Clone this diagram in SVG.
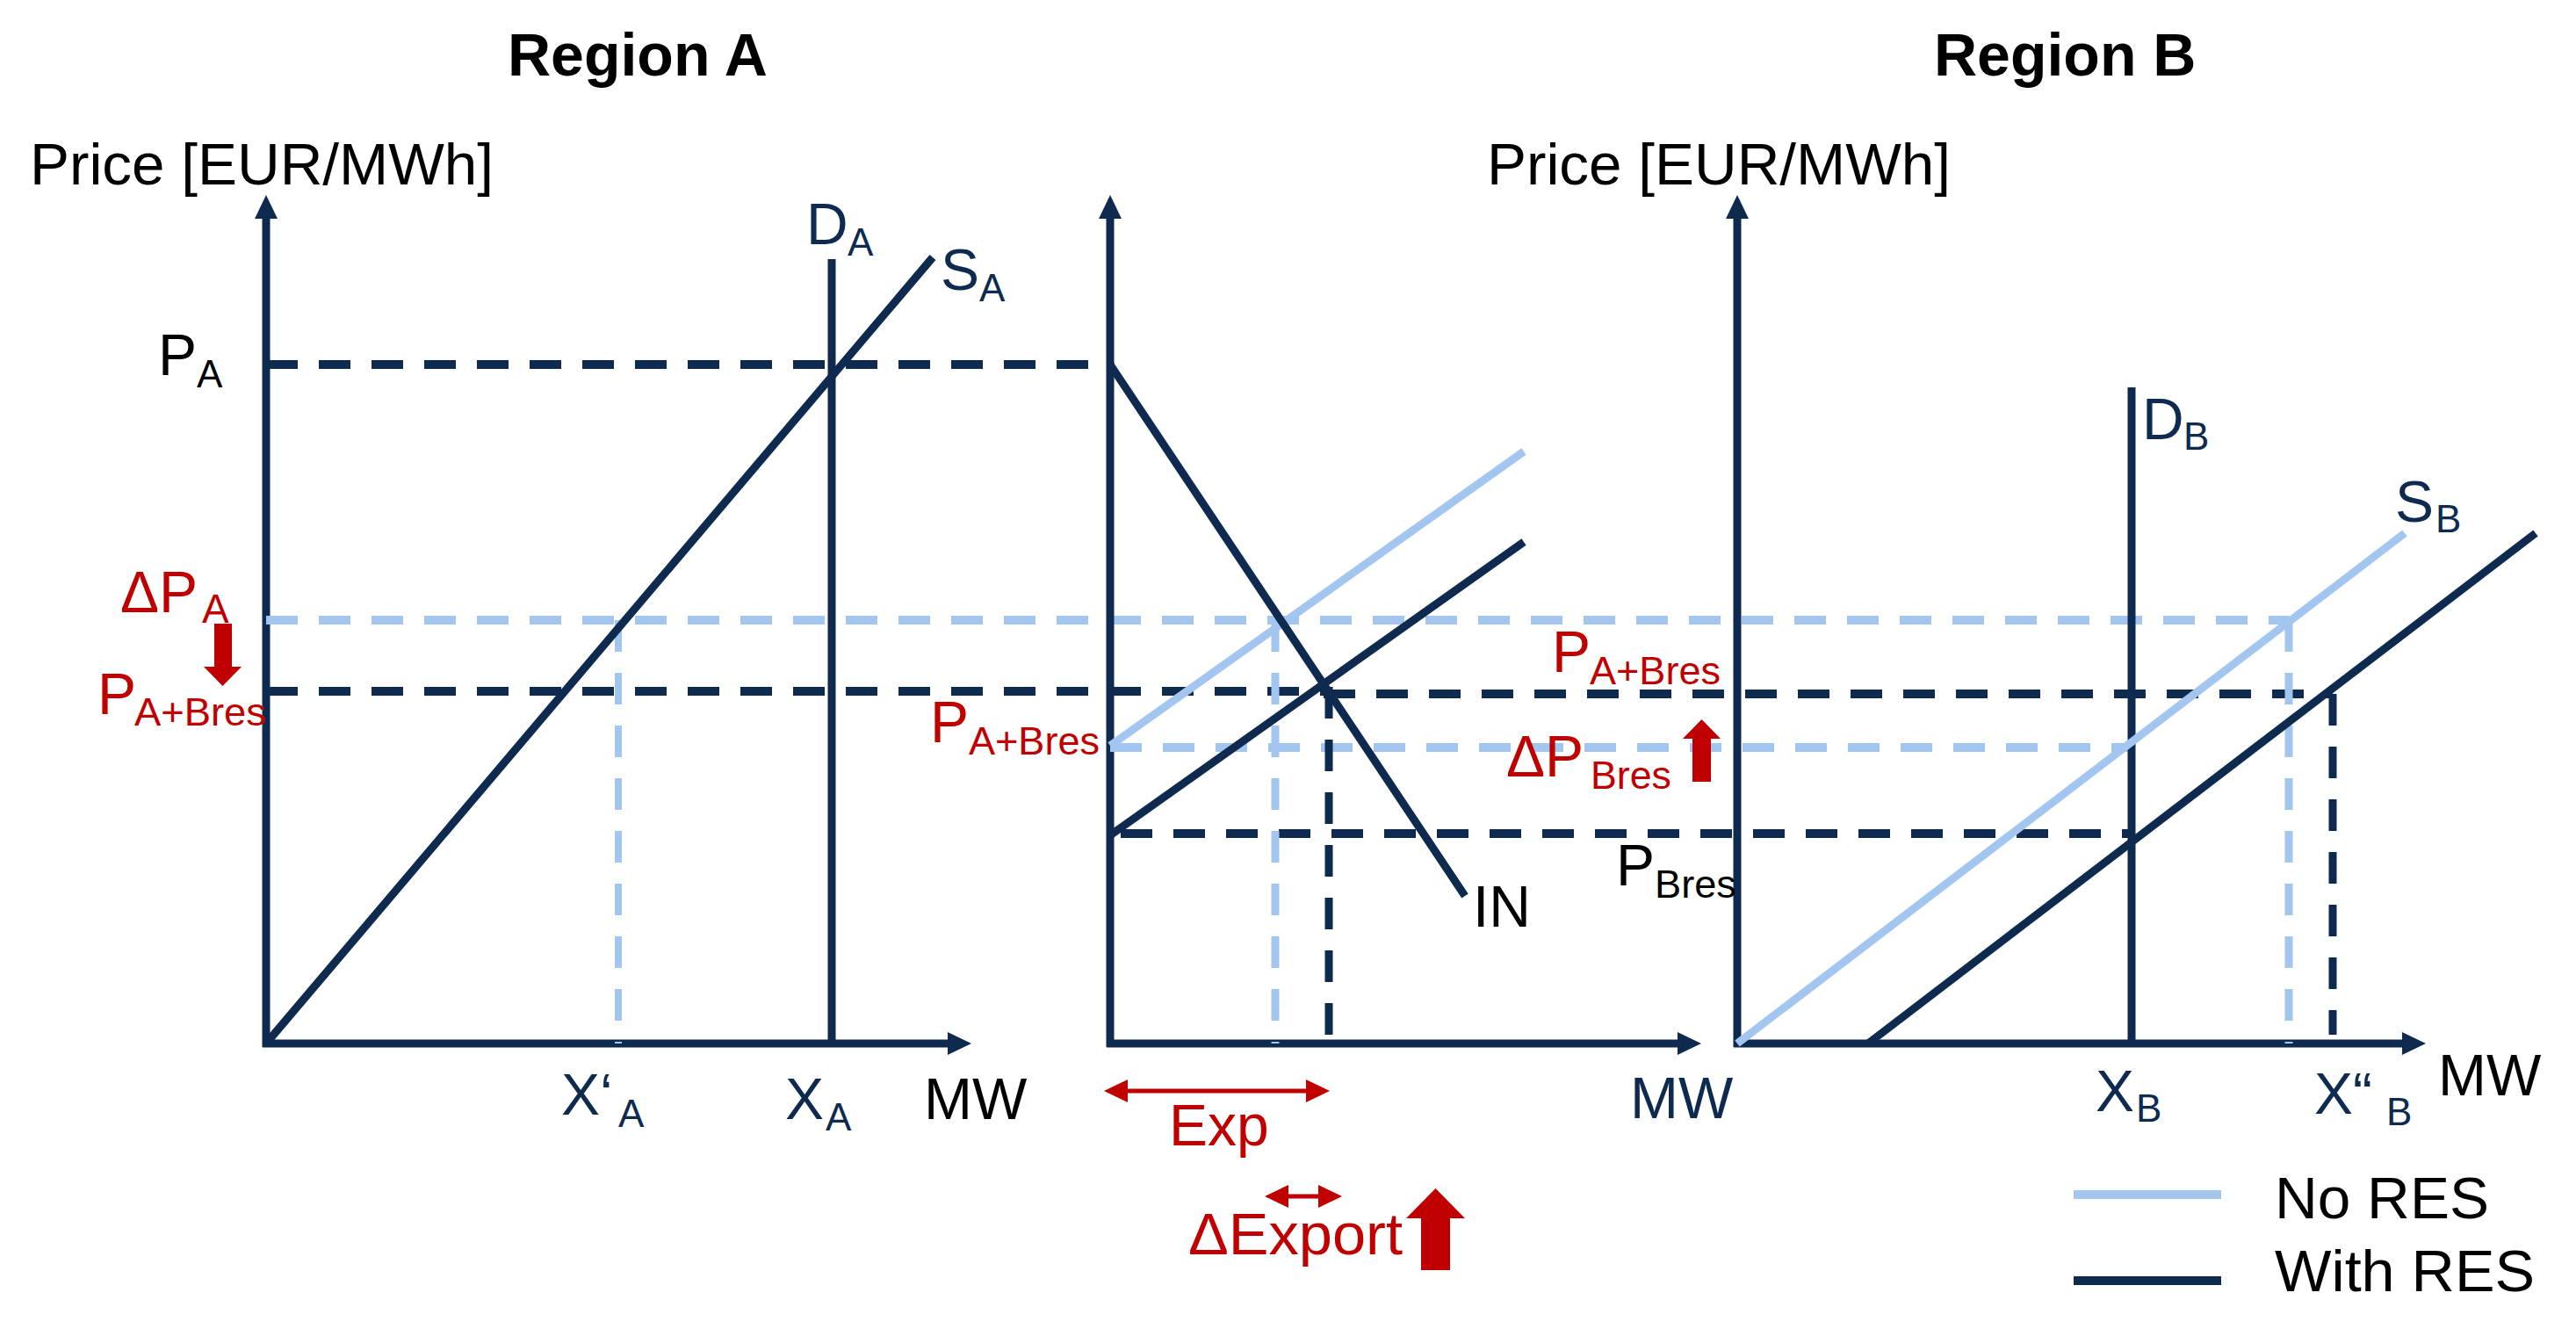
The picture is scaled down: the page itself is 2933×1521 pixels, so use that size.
<svg xmlns="http://www.w3.org/2000/svg" width="2933" height="1521" viewBox="0 0 2933 1521">
  <style>
    text { font-family: "Liberation Sans", Arial, sans-serif; font-size: 66px; }
    .title { font-weight: bold; font-size: 68px; fill: #000; }
    .blk { fill: #000; }
    .navy { fill: #0E2A4F; }
    .red { fill: #C00000; }
    .sub { font-size: 44px; }
    .axis { stroke: #0E2A4F; stroke-width: 9; fill: none; }
    .dark { stroke: #0E2A4F; stroke-width: 9; fill: none; }
    .light { stroke: #A3C6F1; stroke-width: 9; fill: none; }
    .ddash { stroke: #0E2A4F; stroke-width: 10; stroke-dasharray: 36 24; fill: none; }
    .ldash { stroke: #A3C6F1; stroke-width: 10; stroke-dasharray: 36 24; fill: none; }
    .vddash { stroke: #0E2A4F; stroke-width: 9; stroke-dasharray: 36 24; fill: none; }
    .vldash { stroke: #A3C6F1; stroke-width: 8; stroke-dasharray: 36 24; fill: none; }
    .redline { stroke: #C00000; stroke-width: 5; fill: none; }
    .redfill { fill: #C00000; }
  </style>
  <defs>
    <marker id="axhead" markerUnits="userSpaceOnUse" markerWidth="28" markerHeight="28" refX="0" refY="13" orient="auto" viewBox="0 0 28 26">
      <path d="M0,0 L27,13 L0,26 z" fill="#0E2A4F"/>
    </marker>
    <marker id="redhead" markerUnits="userSpaceOnUse" markerWidth="28" markerHeight="28" refX="0" refY="13" orient="auto-start-reverse" viewBox="0 0 28 26">
      <path d="M0,0 L27,13 L0,26 z" fill="#C00000"/>
    </marker>
  </defs>

  <rect x="0" y="0" width="2933" height="1521" fill="#ffffff"/>

  <g id="titles">
    <text class="title" x="578" y="86">Region A</text>
    <text class="title" x="2202" y="86">Region B</text>
  </g>

  <!-- Region A panel -->
  <g id="panel-a">
    <text class="blk" x="34" y="210" style="font-size:67px" textLength="528" lengthAdjust="spacingAndGlyphs">Price [EUR/MWh]</text>
    <line class="axis" x1="303" y1="1192" x2="303" y2="249" marker-end="url(#axhead)"/>
    <line class="axis" x1="299" y1="1188" x2="1079" y2="1188" marker-end="url(#axhead)"/>
    <line class="ddash" x1="303" y1="415" x2="1264" y2="415"/>
    <line class="ldash" x1="303" y1="706" x2="2606" y2="706"/>
    <line class="ddash" x1="303" y1="787" x2="1507" y2="787"/>
    <line class="vldash" x1="704" y1="706" x2="704" y2="1188"/>
    <line class="dark" x1="947" y1="295" x2="947" y2="1188"/>
    <line class="dark" x1="303" y1="1188" x2="1062" y2="293"/>
    <text class="navy" x="918" y="278">D<tspan class="sub" x="965" y="291">A</tspan></text>
    <text class="navy" x="1071" y="330">S<tspan class="sub" x="1115" y="343">A</tspan></text>
    <text class="blk" x="180" y="427">P<tspan class="sub" x="224" y="441">A</tspan></text>
    <text class="red" x="137" y="697">ΔP<tspan class="sub" x="230" y="709" style="font-size:46px">A</tspan></text>
    <polygon class="redfill" points="244,710 264,710 264,759 275,759 253.5,781 232,759 244,759"/>
    <text class="red" x="111" y="813">P<tspan class="sub" x="153" y="826" textLength="150" lengthAdjust="spacingAndGlyphs">A+Bres</tspan></text>
    <text class="navy" x="639" y="1269">X‘<tspan class="sub" x="704" y="1283">A</tspan></text>
    <text class="navy" x="894" y="1274">X<tspan class="sub" x="940" y="1287">A</tspan></text>
    <text class="blk" x="1052" y="1274">MW</text>
  </g>

  <!-- Middle (interconnector) panel -->
  <g id="panel-mid">
    <line class="axis" x1="1264" y1="1192" x2="1264" y2="249" marker-end="url(#axhead)"/>
    <line class="axis" x1="1260" y1="1188" x2="1910" y2="1188" marker-end="url(#axhead)"/>
    <line class="ddash" x1="1507" y1="790" x2="2656" y2="790"/>
    <line class="ldash" x1="1264" y1="851" x2="2424" y2="851"/>
    <line class="ddash" x1="1264" y1="949" x2="2430" y2="949" stroke-dashoffset="-12"/>
    <line class="vldash" x1="1452" y1="706" x2="1452" y2="1188" style="stroke-width:9"/>
    <line class="vddash" x1="1513" y1="782" x2="1513" y2="1178"/>
    <line class="light" x1="1264" y1="849" x2="1735" y2="514"/>
    <line class="dark" x1="1264" y1="951" x2="1735" y2="617"/>
    <line class="dark" x1="1264" y1="415" x2="1668" y2="1020"/>
    <text class="red" x="1059" y="845">P<tspan class="sub" x="1103" y="859" textLength="149" lengthAdjust="spacingAndGlyphs">A+Bres</tspan></text>
    <text class="blk" x="1677" y="1055">IN</text>
    <text class="navy" x="1856" y="1273">MW</text>
    <line class="redline" x1="1284" y1="1242" x2="1487" y2="1242" marker-start="url(#redhead)" marker-end="url(#redhead)"/>
    <text class="red" x="1331" y="1304">Exp</text>
    <line class="redline" x1="1467" y1="1362" x2="1501" y2="1362" marker-start="url(#redhead)" marker-end="url(#redhead)"/>
    <text class="red" x="1353" y="1428" textLength="244" lengthAdjust="spacingAndGlyphs">ΔExport</text>
    <polygon class="redfill" points="1634.5,1353 1668,1387 1651,1387 1651,1446 1618,1446 1618,1387 1601,1387"/>
  </g>

  <!-- Region B panel -->
  <g id="panel-b">
    <text class="blk" x="1693" y="210" style="font-size:67px" textLength="528" lengthAdjust="spacingAndGlyphs">Price [EUR/MWh]</text>
    <line class="axis" x1="1978" y1="1192" x2="1978" y2="249" marker-end="url(#axhead)"/>
    <line class="axis" x1="1974" y1="1188" x2="2735" y2="1188" marker-end="url(#axhead)"/>
    <line class="dark" x1="2427" y1="441" x2="2427" y2="1188"/>
    <line class="vldash" x1="2606" y1="706" x2="2606" y2="1188" style="stroke-width:9"/>
    <line class="vddash" x1="2656" y1="790" x2="2656" y2="1178"/>
    <line class="light" x1="1978" y1="1188" x2="2738" y2="607"/>
    <line class="dark" x1="2127" y1="1188" x2="2887" y2="607"/>
    <text class="red" x="1767" y="765">P<tspan class="sub" x="1810" y="779" textLength="149" lengthAdjust="spacingAndGlyphs">A+Bres</tspan></text>
    <text class="red" x="1715" y="884">ΔP<tspan class="sub" x="1811" y="898" textLength="92" lengthAdjust="spacingAndGlyphs">Bres</tspan></text>
    <polygon class="redfill" points="1937.5,819 1959,841 1948,841 1948,890 1927,890 1927,841 1916,841"/>
    <text class="blk" x="1840" y="1008">P<tspan class="sub" x="1884" y="1022" textLength="93" lengthAdjust="spacingAndGlyphs">Bres</tspan></text>
    <text class="navy" x="2439" y="500">D<tspan class="sub" x="2486" y="512">B</tspan></text>
    <text class="navy" x="2727" y="594">S<tspan class="sub" x="2773" y="606">B</tspan></text>
    <text class="navy" x="2386" y="1265">X<tspan class="sub" x="2432" y="1277">B</tspan></text>
    <text class="navy" x="2635" y="1268">X“<tspan class="sub" x="2717" y="1281">B</tspan></text>
    <text class="blk" x="2776" y="1247">MW</text>
  </g>

  <g id="legend">
    <line class="light" x1="2361" y1="1360" x2="2529" y2="1360" style="stroke-width:10"/>
    <text class="blk" x="2590" y="1387" textLength="244" lengthAdjust="spacingAndGlyphs">No RES</text>
    <line class="dark" x1="2361" y1="1458" x2="2529" y2="1458" style="stroke-width:10"/>
    <text class="blk" x="2590" y="1470" textLength="296" lengthAdjust="spacingAndGlyphs">With RES</text>
  </g>
</svg>
